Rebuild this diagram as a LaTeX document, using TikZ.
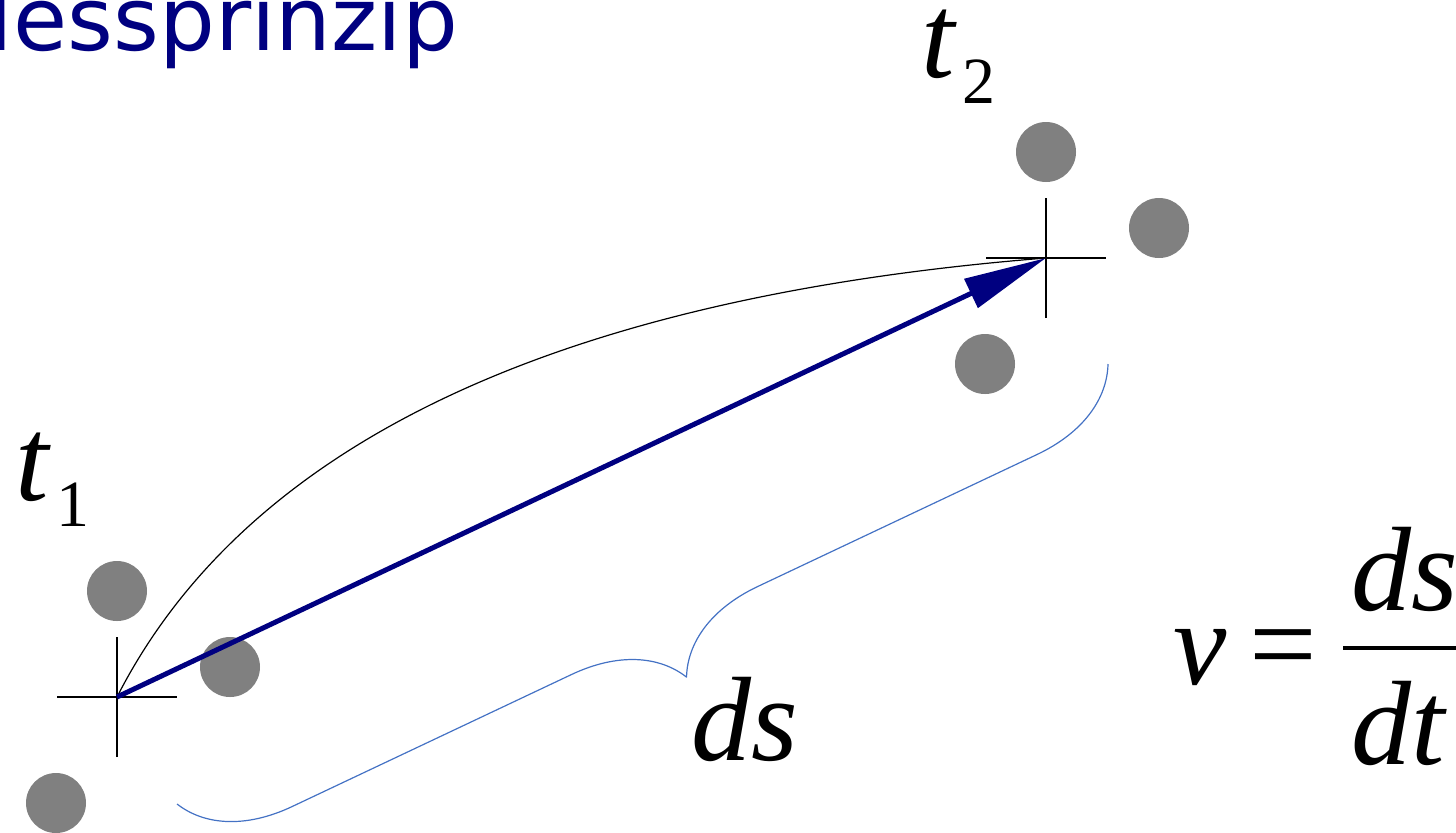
\documentclass[tikz,border=0pt]{standalone}
\usepackage{fontspec}
\setmainfont{Liberation Serif}
\newfontfamily\titlefont{DejaVu Sans}
\usetikzlibrary{arrows.meta, decorations.pathreplacing}
\definecolor{ink}{HTML}{000000}
\definecolor{fignavy}{HTML}{000080}
\definecolor{figgray}{HTML}{808080}
\definecolor{figbrace}{HTML}{4472C4}
\newcommand{\figmathsize}{\fontsize{60}{60}\selectfont}
\newcommand{\figsubsize}{\fontsize{33}{33}\selectfont}
\newcommand{\figtitlesize}{\fontsize{44}{44}\selectfont}
\newcommand{\tlab}[1]{\textit{t}\kern4pt\raisebox{-13pt}{\figsubsize\upshape #1}}
\tikzset{
  every picture/.style = {line join=round},
  hair/.style          = {line width=0.6pt},
  move/.style          = {line width=2.5pt, fignavy, -{Triangle[length=41.5pt, width=15.5pt]}},
  particle/.style      = {fill=figgray},
  mathtext/.style      = {inner sep=0pt, anchor=base west, font=\figmathsize\itshape},
}

\begin{document}
\begin{tikzpicture}[x=0.5pt, y=-0.5pt]
  \useasboundingbox (0,0) rectangle (1456,832);
  \clip (0,0) rectangle (1456,832);
  \def\arm{30pt}   % half length of a cross
  \def\r{15pt}     % particle radius

  % ---------- the two positions ---------------------------------------------
  \coordinate (p1) at (117,697);
  \coordinate (p2) at (1046,258);
  \coordinate (c1) at (246,444);                 % controls of the path
  \coordinate (c2) at (556,297);
  \coordinate (b1) at (177,804);                 % ends of the brace
  \coordinate (b2) at (1108,364);

  \node[anchor=base west, inner sep=0pt, font=\titlefont\figtitlesize, text=fignavy]
    (title) at (-63,50) {Messprinzip};

  % particles round each position
  \foreach \p in {p1, p2}{
    \foreach \dx/\dy in {0/-106, 113/-30, -61/106}
      \fill[particle] ([shift={(\dx,\dy)}]\p) circle[radius=\r];
    \draw[hair, ink] ([xshift=-\arm]\p) -- ([xshift=\arm]\p);
    \draw[hair, ink] ([yshift=-\arm]\p) -- ([yshift=\arm]\p);
  }

  % ---------- path, displacement and brace ---------------------------------
  \draw[hair, ink] (p1) .. controls (c1) and (c2) .. (p2);
  \draw[move] (p1) -- (p2);
  \draw[hair, figbrace, decorate, decoration={brace, amplitude=51.5pt}] (b2) -- (b1);

  \node[mathtext] (t1) at (15,500) {\tlab{1}};
  \node[mathtext] (t2) at (921,77) {\tlab{2}};
  \node[mathtext] (ds) at (691,760) {ds};

  % ---------- v = ds/dt -------------------------------------------------------
  \node[mathtext] (v) at (1173,684) {v};
  \node[mathtext, font=\figmathsize] (eq) at (1249,684) {=};
  \node[mathtext] (num) at (1351,610) {ds};
  \node[mathtext] (den) at (1351,764) {dt};
  \coordinate (barL) at (1343,648);
  \coordinate (barR) at (1470,648);
  \draw[line width=2pt, ink] (barL) -- (barR);
\end{tikzpicture}
\end{document}
